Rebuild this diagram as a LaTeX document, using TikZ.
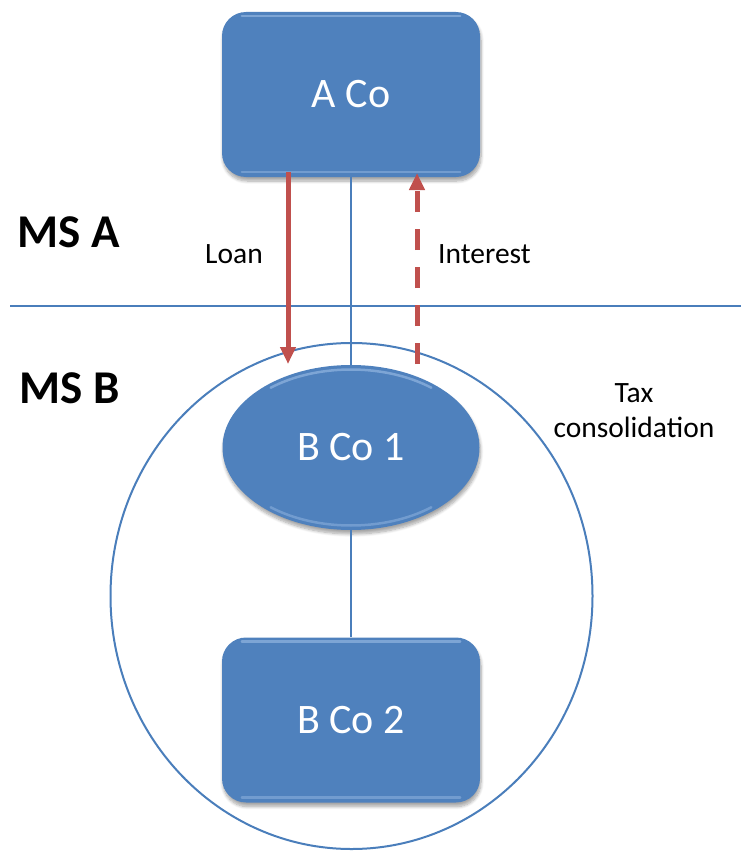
\documentclass[tikz,border=0pt]{standalone}
\usepackage{fontspec}
\setmainfont{Carlito}
\usetikzlibrary{shapes.geometric,shadows.blur,arrows.meta}
\definecolor{accblue}{HTML}{4F81BD}
\definecolor{lineblue}{HTML}{4A7EBB}
\definecolor{accred}{HTML}{C0504D}
\definecolor{hilite}{HTML}{9DBDE6}
\begin{document}
\begin{tikzpicture}[x=1pt,y=-1pt,
  shadowed/.style={blur shadow={shadow xshift=1pt, shadow yshift=-4pt, shadow opacity=35, shadow blur steps=8, shadow blur radius=3pt}},
  cobox/.style={shadowed, fill=accblue, rounded corners=24pt, minimum width=258pt, minimum height=165pt, inner sep=0pt, text=white, font=\fontsize{42}{50}\selectfont},
  coell/.style={shadowed, ellipse, fill=accblue, minimum width=257pt, minimum height=165pt, inner sep=0pt, text=white, font=\fontsize{42}{50}\selectfont},
  link/.style={draw=lineblue, line width=1.5pt},
  hl/.style={draw=hilite, line width=2.5pt, line cap=round, opacity=0.6},
  flow/.style={draw=accred, line width=5pt, -{Triangle[length=17pt,width=15pt]}},
  label/.style={font=\fontsize{29.5}{35}\selectfont, inner sep=0pt},
  mslabel/.style={font=\fontsize{47}{55}\selectfont\bfseries, inner sep=0pt}]
\useasboundingbox (0,0) rectangle (741,851);

% tax consolidation circle
\node[draw=lineblue, line width=2pt, ellipse, minimum width=482pt, minimum height=506pt, inner sep=0pt] (cons) at (351.5,596) {};

% horizontal border
\coordinate (hl1) at (10,306);
\coordinate (hl2) at (741,306);
\draw[link] (hl1) -- (hl2);

% nodes
\node[cobox] (a) at (351,94.5) {A Co};
\node[coell] (b1) at (351,447.5) {B Co 1};
\node[cobox] (b2) at (351,720) {B Co 2};

% bevel highlights
\foreach \n in {a,b2}{
  \draw[hl] ([xshift=20pt,yshift=-4pt]\n.north west) -- ([xshift=-20pt,yshift=-4pt]\n.north east);
  \draw[hl, opacity=0.45] ([xshift=20pt,yshift=5pt]\n.south west) -- ([xshift=-20pt,yshift=5pt]\n.south east);
}
\draw[hl] ([shift={(-80.35,-59.75)}]b1.center) arc[start angle=230, end angle=310, x radius=125, y radius=78];
\draw[hl, opacity=0.45] ([shift={(-80.35,59.75)}]b1.center) arc[start angle=130, end angle=50, x radius=125, y radius=78];

% structure links
\draw[link] (a.south) -- (b1.north);
\draw[link] (b1.south) -- (b2.north);

% flows
\coordinate (loanS) at (288,172);
\coordinate (loanE) at (288,364);
\coordinate (intS) at (417,364);
\coordinate (intE) at (417,173);
\draw[flow] (loanS) -- (loanE);
\draw[flow, dash pattern=on 21pt off 17pt] (intS) -- (intE);

% labels
\node[label, anchor=base west] (loan) at (205,263) {Loan};
\node[label, anchor=base west] (interest) at (438,263) {Interest};
\node[label, anchor=north, align=center] (tax) at (634,383) {Tax\\consolidation};
\node[mslabel, anchor=base west] (msa) at (17,247) {MS A};
\node[mslabel, anchor=base west] (msb) at (19,403) {MS B};
\end{tikzpicture}
\end{document}
